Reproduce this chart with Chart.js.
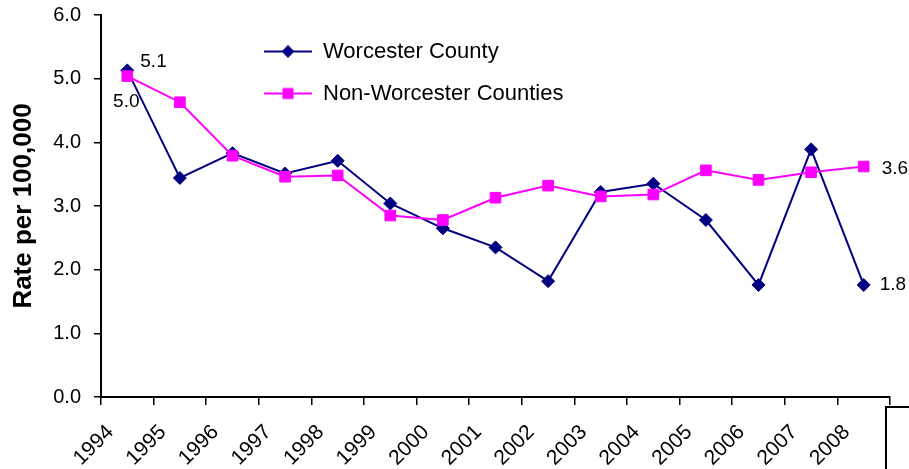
<!DOCTYPE html>
<html><head><meta charset="utf-8">
<script src="https://cdn.jsdelivr.net/npm/chart.js@4.4.0/dist/chart.umd.min.js"></script>
<style>
html,body{margin:0;padding:0;background:#fff;}
#wrap{position:relative;width:909px;height:469px;overflow:hidden;background:#fff;}
#frame{position:absolute;left:885px;top:406px;width:60px;height:100px;border:2px solid #000;}
</style></head><body>
<div id="wrap"><canvas id="c" width="909" height="469"></canvas><div id="frame"></div></div>
<script>
// ---- data ----
const years = ['1994','1995','1996','1997','1998','1999','2000','2001','2002','2003','2004','2005','2006','2007','2008'];
const worcester = [5.13,3.44,3.83,3.51,3.71,3.04,2.65,2.35,1.82,3.22,3.35,2.78,1.76,3.89,1.76];
const nonWorcester = [5.04,4.63,3.79,3.46,3.48,2.85,2.78,3.13,3.32,3.15,3.18,3.56,3.41,3.53,3.62];
const yTicks = [0,1,2,3,4,5,6];
const seriesNames = ['Worcester County','Non-Worcester Counties'];

const NAVY = '#000080', MAG = '#FF00FF';
const FONT = "'Liberation Sans', Arial, sans-serif";

function legendIcon(color, kind) {
  const c = document.createElement('canvas');
  c.width = 48; c.height = 16;
  const g = c.getContext('2d');
  g.strokeStyle = color; g.lineWidth = 2;
  g.beginPath(); g.moveTo(0, 8); g.lineTo(48, 8); g.stroke();
  g.fillStyle = color;
  if (kind === 'diamond') {
    g.beginPath(); g.moveTo(17.5, 8); g.lineTo(24, 1.5); g.lineTo(30.5, 8); g.lineTo(24, 14.5); g.closePath(); g.fill();
  } else {
    g.fillRect(18.5, 2.5, 11, 11);
  }
  return c;
}
const icons = [legendIcon(NAVY, 'diamond'), legendIcon(MAG, 'square')];

const valueLabels = [
  {ds: 0, i: 0, dx: 13, dy: -9, align: 'left'},
  {ds: 1, i: 0, dx: -1, dy: 26, align: 'center'},
  {ds: 1, i: 14, dx: 18, dy: 2, align: 'left'},
  {ds: 0, i: 14, dx: 16, dy: 0, align: 'left'}
];

const labelPlugin = {
  id: 'valueLabels',
  afterDatasetsDraw(chart) {
    const ctx = chart.ctx;
    ctx.save();
    ctx.font = '19px ' + FONT;
    ctx.fillStyle = '#000';
    ctx.textBaseline = 'middle';
    valueLabels.forEach(l => {
      const pt = chart.getDatasetMeta(l.ds).data[l.i];
      const v = chart.data.datasets[l.ds].data[l.i];
      ctx.textAlign = l.align;
      ctx.fillText(v.toFixed(1), pt.x + l.dx, pt.y + l.dy);
    });
    ctx.restore();
  }
};

const legendMove = {
  id: 'legendMove',
  afterLayout(chart) {
    const lg = chart.legend;
    if (!lg) return;
    const w = lg.width, h = lg.height;
    lg.left = 244; lg.top = 20.5; lg.right = lg.left + w; lg.bottom = lg.top + h;
    if (lg.adjustHitBoxes) lg.adjustHitBoxes();
  }
};

new Chart(document.getElementById('c'), {
  type: 'line',
  data: {
    labels: years,
    datasets: [
      {label: seriesNames[0], data: worcester, borderColor: NAVY, backgroundColor: NAVY,
       borderWidth: 2, pointStyle: 'rectRot', pointRadius: 6.5, pointBorderWidth: 1,
       pointBackgroundColor: NAVY, pointBorderColor: NAVY, tension: 0, order: 2},
      {label: seriesNames[1], data: nonWorcester, borderColor: MAG, backgroundColor: MAG,
       borderWidth: 2, pointStyle: 'rect', pointRadius: 7.5, pointBorderWidth: 1,
       pointBackgroundColor: MAG, pointBorderColor: MAG, tension: 0, order: 1}
    ]
  },
  options: {
    responsive: false,
    animation: false,
    layout: {padding: {top: 15, right: 19, bottom: 0, left: 0}},
    plugins: {
      tooltip: {enabled: false},
      legend: {
        position: 'chartArea',
        align: 'start',
        labels: {
          usePointStyle: true,
          pointStyleWidth: 48,
          padding: 20,
          color: '#000',
          font: {family: FONT, size: 22},
          sort: (a, b) => a.datasetIndex - b.datasetIndex,
          generateLabels(chart) {
            const items = Chart.defaults.plugins.legend.labels.generateLabels(chart);
            items.forEach(it => { it.pointStyle = icons[it.datasetIndex]; });
            return items;
          }
        }
      }
    },
    scales: {
      x: {
        type: 'category',
        offset: true,
        grid: {offset: true, drawOnChartArea: false, drawTicks: true, tickLength: 8, color: '#000', lineWidth: 1.5},
        border: {display: true, color: '#000', width: 2},
        ticks: {minRotation: 45, maxRotation: 45, autoSkip: false, labelOffset: -17, padding: 15,
                color: '#000', font: {family: FONT, size: 21}},
        afterFit(s) { s.height = 72; }
      },
      y: {
        min: 0, max: 6,
        afterBuildTicks(s) { s.ticks = yTicks.map(v => ({value: v})); },
        grid: {drawOnChartArea: false, drawTicks: true, tickLength: 7, color: '#000', lineWidth: 1.5},
        border: {display: true, color: '#000', width: 2},
        ticks: {padding: 13, color: '#000', font: {family: FONT, size: 20, lineHeight: 0.1},
                callback: v => Number(v).toFixed(1)},
        title: {display: true, text: 'Rate per 100,000', color: '#000',
                font: {family: FONT, size: 26, weight: 'bold'}, padding: {top: 8, bottom: 0}},
        afterFit(s) { s.width = 101; }
      }
    }
  },
  plugins: [labelPlugin, legendMove]
});
</script>
</body></html>
